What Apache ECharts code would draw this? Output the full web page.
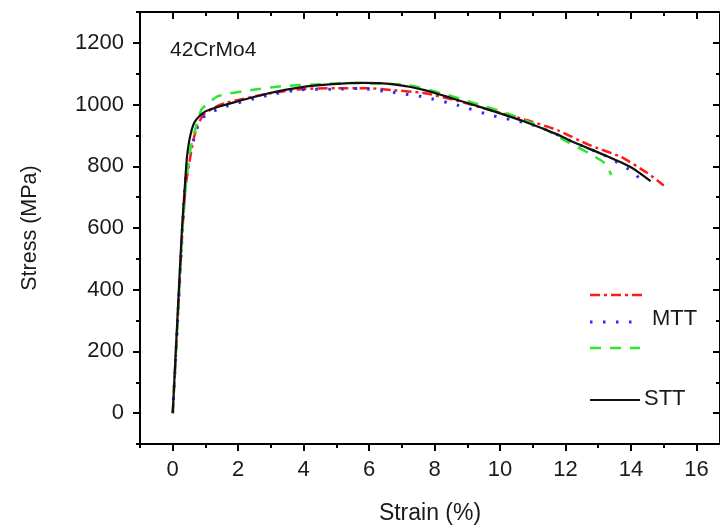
<!DOCTYPE html>
<html>
<head>
<meta charset="utf-8">
<script src="https://cdn.jsdelivr.net/npm/echarts@6/dist/echarts.min.js"></script>
<style>
html,body{margin:0;padding:0;background:#fff;}
#chart{width:720px;height:530px;}
</style>
</head>
<body>
<div id="chart"></div>
<script>
// ---- data (strain %, stress MPa) ----
var sttData = [[0,0],[0.14,300],[0.28,593],[0.36,720],[0.43,825],[0.5,880],[0.58,918],[0.66,942],[0.79,960],[1.0,978],[1.4,993],[1.9,1008],[2.9,1036],[3.9,1056],[4.9,1066],[5.8,1070],[6.7,1066],[7.7,1047],[8.7,1015],[9.7,982],[10.8,943],[11.8,901],[12.2,880],[13.2,836],[14.0,797],[14.6,752]];
var mttRed = [[0,0],[0.15,300],[0.3,600],[0.4,740],[0.52,820],[0.62,880],[0.75,930],[0.95,968],[1.3,992],[1.6,1005],[2.9,1035],[3.9,1050],[5.0,1053],[6.0,1053],[6.7,1047],[7.7,1037],[8.7,1012],[9.7,982],[10.8,950],[11.4,930],[11.8,915],[12.7,870],[13.7,830],[14.5,778],[15.0,738]];
var mttBlue = [[0,0],[0.15,300],[0.3,600],[0.39,760],[0.5,830],[0.64,885],[0.8,940],[1.0,965],[1.5,990],[2.9,1030],[3.9,1048],[5.0,1050],[5.7,1052],[6.7,1040],[7.7,1024],[8.7,998],[9.7,966],[10.8,940],[11.3,924],[12.2,880],[13.2,835],[14.1,778],[14.4,740]];
var mttGreen = [[0,0],[0.15,300],[0.3,600],[0.42,760],[0.55,860],[0.7,924],[0.88,985],[1.04,1000],[1.4,1028],[2.4,1047],[3.4,1060],[4.5,1066],[5.5,1070],[6.2,1068],[7.2,1063],[8.2,1037],[9.2,1005],[10.2,972],[11.2,930],[12.07,878],[12.7,843],[13.2,810],[13.4,772]];

var xMajor = [0,2,4,6,8,10,12,14,16];
var xMinor = [-1,1,3,5,7,9,11,13,15];
var yMajor = [0,200,400,600,800,1000,1200];
var yMinor = [-100,100,300,500,700,900,1100,1300];

var X_MIN = -1, X_MAX = 16.72, Y_MIN = -100, Y_MAX = 1300;
var FONT = 'Liberation Sans, Arial, sans-serif';
var TXT = '#1a1a1a';

function plain(v) { return String(v); }

function xAx(pos, ticks, len, inside, showLine, showLabel, name) {
  var a = {
    type: 'value', position: pos, min: X_MIN, max: X_MAX,
    axisLine: {show: showLine, onZero: false, lineStyle: {color: '#000', width: 2}},
    axisTick: {show: true, inside: inside, length: len, customValues: ticks, lineStyle: {color: '#000', width: 2}},
    axisLabel: {show: showLabel, customValues: ticks, formatter: plain, margin: 15, fontSize: 22, fontFamily: FONT, color: TXT},
    splitLine: {show: false}
  };
  if (name) {
    a.name = name; a.nameLocation = 'middle'; a.nameGap = 58;
    a.nameTextStyle = {fontSize: 23, fontFamily: FONT, color: TXT};
  }
  return a;
}
function yAx(pos, ticks, len, inside, showLine, showLabel, name) {
  var a = {
    type: 'value', position: pos, min: Y_MIN, max: Y_MAX,
    axisLine: {show: showLine, onZero: false, lineStyle: {color: '#000', width: 2}},
    axisTick: {show: true, inside: inside, length: len, customValues: ticks, lineStyle: {color: '#000', width: 2}},
    axisLabel: {show: showLabel, customValues: ticks, formatter: plain, margin: 16, fontSize: 22, fontFamily: FONT, color: TXT},
    splitLine: {show: false}
  };
  if (name) {
    a.name = name; a.nameLocation = 'middle'; a.nameGap = 99;
    a.nameTextStyle = {fontSize: 21.5, fontFamily: FONT, color: TXT};
  }
  return a;
}

var chart = echarts.init(document.getElementById('chart'), null, {renderer: 'canvas'});
chart.setOption({
  animation: false,
  backgroundColor: '#fff',
  grid: {left: 140, right: -2, top: 12, bottom: 85, containLabel: false},
  xAxis: [
    xAx('bottom', xMajor, 7, false, true, true, 'Strain (%)'),
    xAx('bottom', xMinor, 4, false, false, false),
    xAx('top', xMajor, 7, true, true, false),
    xAx('top', xMinor, 4, true, false, false)
  ],
  yAxis: [
    yAx('left', yMajor, 7, false, true, true, 'Stress (MPa)'),
    yAx('left', yMinor, 4, false, false, false),
    yAx('right', yMajor, 7, true, true, false),
    yAx('right', yMinor, 4, true, false, false)
  ],
  series: [
    {type: 'line', name: 'red', data: mttRed, showSymbol: false, smooth: 0.2, z: 3,
     lineStyle: {color: '#ff1a1a', width: 2.5, type: [10, 4, 3, 4]}},
    {type: 'line', name: 'blue', data: mttBlue, showSymbol: false, smooth: 0.2, z: 3,
     lineStyle: {color: '#2a2aff', width: 3, type: [2.5, 10.5]}},
    {type: 'line', name: 'green', data: mttGreen, showSymbol: false, smooth: 0.2, z: 3,
     lineStyle: {color: '#2ee62e', width: 2.5, type: [11, 9]}},
    {type: 'line', name: 'STT', data: sttData, showSymbol: false, smooth: 0.2, z: 4,
     lineStyle: {color: '#111', width: 2.2, type: 'solid'}}
  ],
  graphic: [
    {type: 'text', left: 170, top: 40, style: {text: '42CrMo4', font: '21px ' + FONT, fill: TXT}},
    {type: 'line', shape: {x1: 590, y1: 295, x2: 642, y2: 295}, style: {stroke: '#ff1a1a', lineWidth: 2.5, lineDash: [10, 4, 3, 4]}},
    {type: 'line', shape: {x1: 590, y1: 322, x2: 640, y2: 322}, style: {stroke: '#2a2aff', lineWidth: 3, lineDash: [2.5, 10.5]}},
    {type: 'text', left: 652, top: 308, style: {text: 'MTT', font: '22px ' + FONT, fill: TXT}},
    {type: 'line', shape: {x1: 590, y1: 348, x2: 640, y2: 348}, style: {stroke: '#2ee62e', lineWidth: 2.5, lineDash: [11, 9]}},
    {type: 'line', shape: {x1: 590, y1: 400, x2: 640, y2: 400}, style: {stroke: '#111', lineWidth: 2.2}},
    {type: 'text', left: 644, top: 388, style: {text: 'STT', font: '22px ' + FONT, fill: TXT}}
  ]
});
</script>
</body>
</html>
